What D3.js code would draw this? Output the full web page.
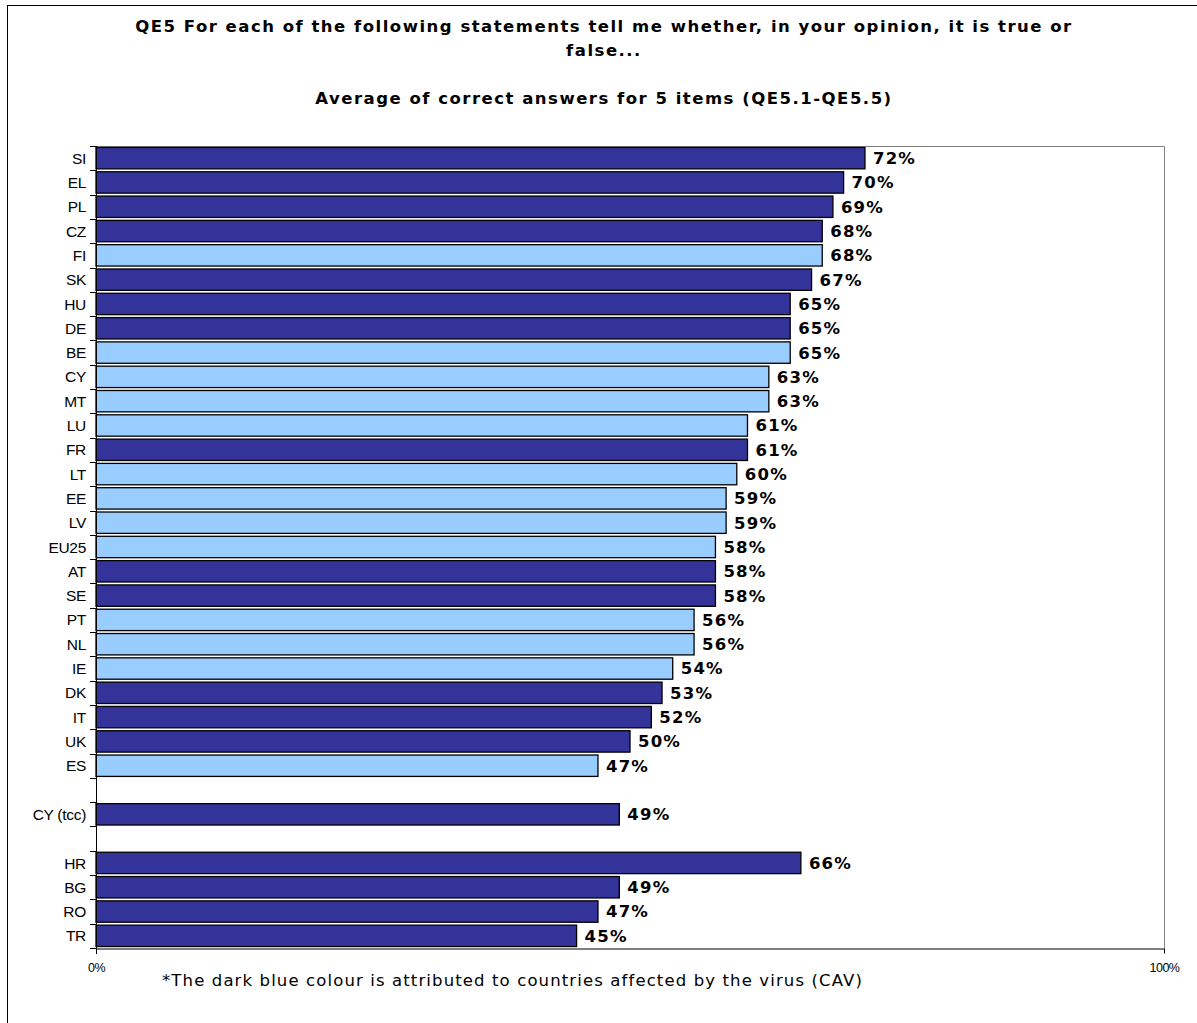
<!DOCTYPE html>
<html><head><meta charset="utf-8">
<script src="https://cdn.jsdelivr.net/npm/d3@7"></script>
<style>body{margin:0;background:#fff}svg{display:block}</style>
</head><body>
<script>
const categories = ["SI","EL","PL","CZ","FI","SK","HU","DE","BE","CY","MT","LU","FR","LT","EE","LV","EU25","AT","SE","PT","NL","IE","DK","IT","UK","ES","","CY (tcc)","","HR","BG","RO","TR"];
const values = [72,70,69,68,68,67,65,65,65,63,63,61,61,60,59,59,58,58,58,56,56,54,53,52,50,47,null,49,null,66,49,47,45];
const affected = [1,1,1,1,0,1,1,1,0,0,0,0,1,0,0,0,0,1,1,0,0,0,1,1,1,0,null,1,null,1,1,1,1];
const xTickLabels = ["0%","100%"];
const titleLines = ["QE5 For each of the following statements tell me whether, in your opinion, it is true or","false...","Average of correct answers for 5 items (QE5.1-QE5.5)"];
const footnote = "*The dark blue colour is attributed to countries affected by the virus (CAV)";

(function(){
const W = 1197, H = 1023;
const svg = d3.select("body").append("svg").attr("width", W).attr("height", H);
svg.append("rect").attr("x",7.5).attr("y",5.5).attr("width",1200).attr("height",1030).attr("fill","#fff").attr("stroke","#000");

const pL = 96, pR = 1164, pT = 146, pB = 948;
const x = d3.scaleLinear().domain([0,100]).range([pL,pR]);
const keys = categories.map((c,i)=>i);
const y = d3.scaleBand().domain(keys).range([pT,pB]).paddingInner(0.12).paddingOuter(0.06);

svg.append("path").attr("d",`M${pL},${pT+0.5}H${pR+0.5}V${pB}`).attr("fill","none").attr("stroke","#808080");

const verd = "DejaVu Sans, Verdana, sans-serif";
const tY = [32,56,104];
titleLines.forEach((t,i)=>svg.append("text").attr("x",604).attr("y",tY[i]).attr("text-anchor","middle")
  .attr("font-family",verd).attr("font-weight","bold").attr("font-size","16.5px").attr("letter-spacing","1.5px").text(t));

const data = categories.map((c,i)=>({c,i,v:values[i],a:affected[i]})).filter(d=>d.v!==null);

svg.append("g").selectAll("rect").data(data).join("rect")
  .attr("x",x(0)).attr("y",d=>y(d.i)).attr("width",d=>x(d.v)-x(0)).attr("height",y.bandwidth())
  .attr("fill",d=>d.a? "#333399":"#99CCFF").attr("stroke","#000").attr("stroke-width",1.3);

svg.append("g").selectAll("text").data(data).join("text")
  .attr("x",d=>x(d.v)+8).attr("y",d=>y(d.i)+y.bandwidth()/2).attr("dy","0.36em")
  .attr("font-family",verd).attr("font-weight","bold").attr("font-size","16.5px").attr("letter-spacing","1.2px")
  .text(d=>d.v+"%");

svg.append("g").selectAll("text").data(data).join("text")
  .attr("x",86).attr("y",d=>y(d.i)+y.bandwidth()/2).attr("dy","0.36em").attr("text-anchor","end")
  .attr("font-family","Liberation Sans, Arial, sans-serif").attr("font-size","15.5px").attr("letter-spacing","-0.3px")
  .text(d=>d.c);

const yAx = svg.append("g").attr("stroke","#000");
yAx.append("line").attr("x1",pL+0.5).attr("x2",pL+0.5).attr("y1",pT).attr("y2",pB+6);
for(let k=0;k<=categories.length;k++){
  const yy = Math.round(pT + k*(pB-pT)/categories.length)+0.5;
  yAx.append("line").attr("x1",pL-6).attr("x2",pL).attr("y1",yy).attr("y2",yy);
}
const xAxis = d3.axisBottom(x).tickValues([0,100]).tickFormat((d,i)=>xTickLabels[i]).tickSize(5).tickSizeOuter(0);
const gx = svg.append("g").attr("transform",`translate(0,${pB+0.5})`).call(xAxis);
gx.select(".domain").attr("stroke","#000");
gx.selectAll("text").attr("font-family","Liberation Sans, Arial, sans-serif").attr("font-size","12.5px").attr("fill","#000").attr("dy","1.2em").attr("letter-spacing","-0.5px");

svg.append("text").attr("x",162).attr("y",986).attr("font-family",verd).attr("font-size","16.5px").attr("letter-spacing","1.12px").text(footnote);
})();
</script>
</body></html>
